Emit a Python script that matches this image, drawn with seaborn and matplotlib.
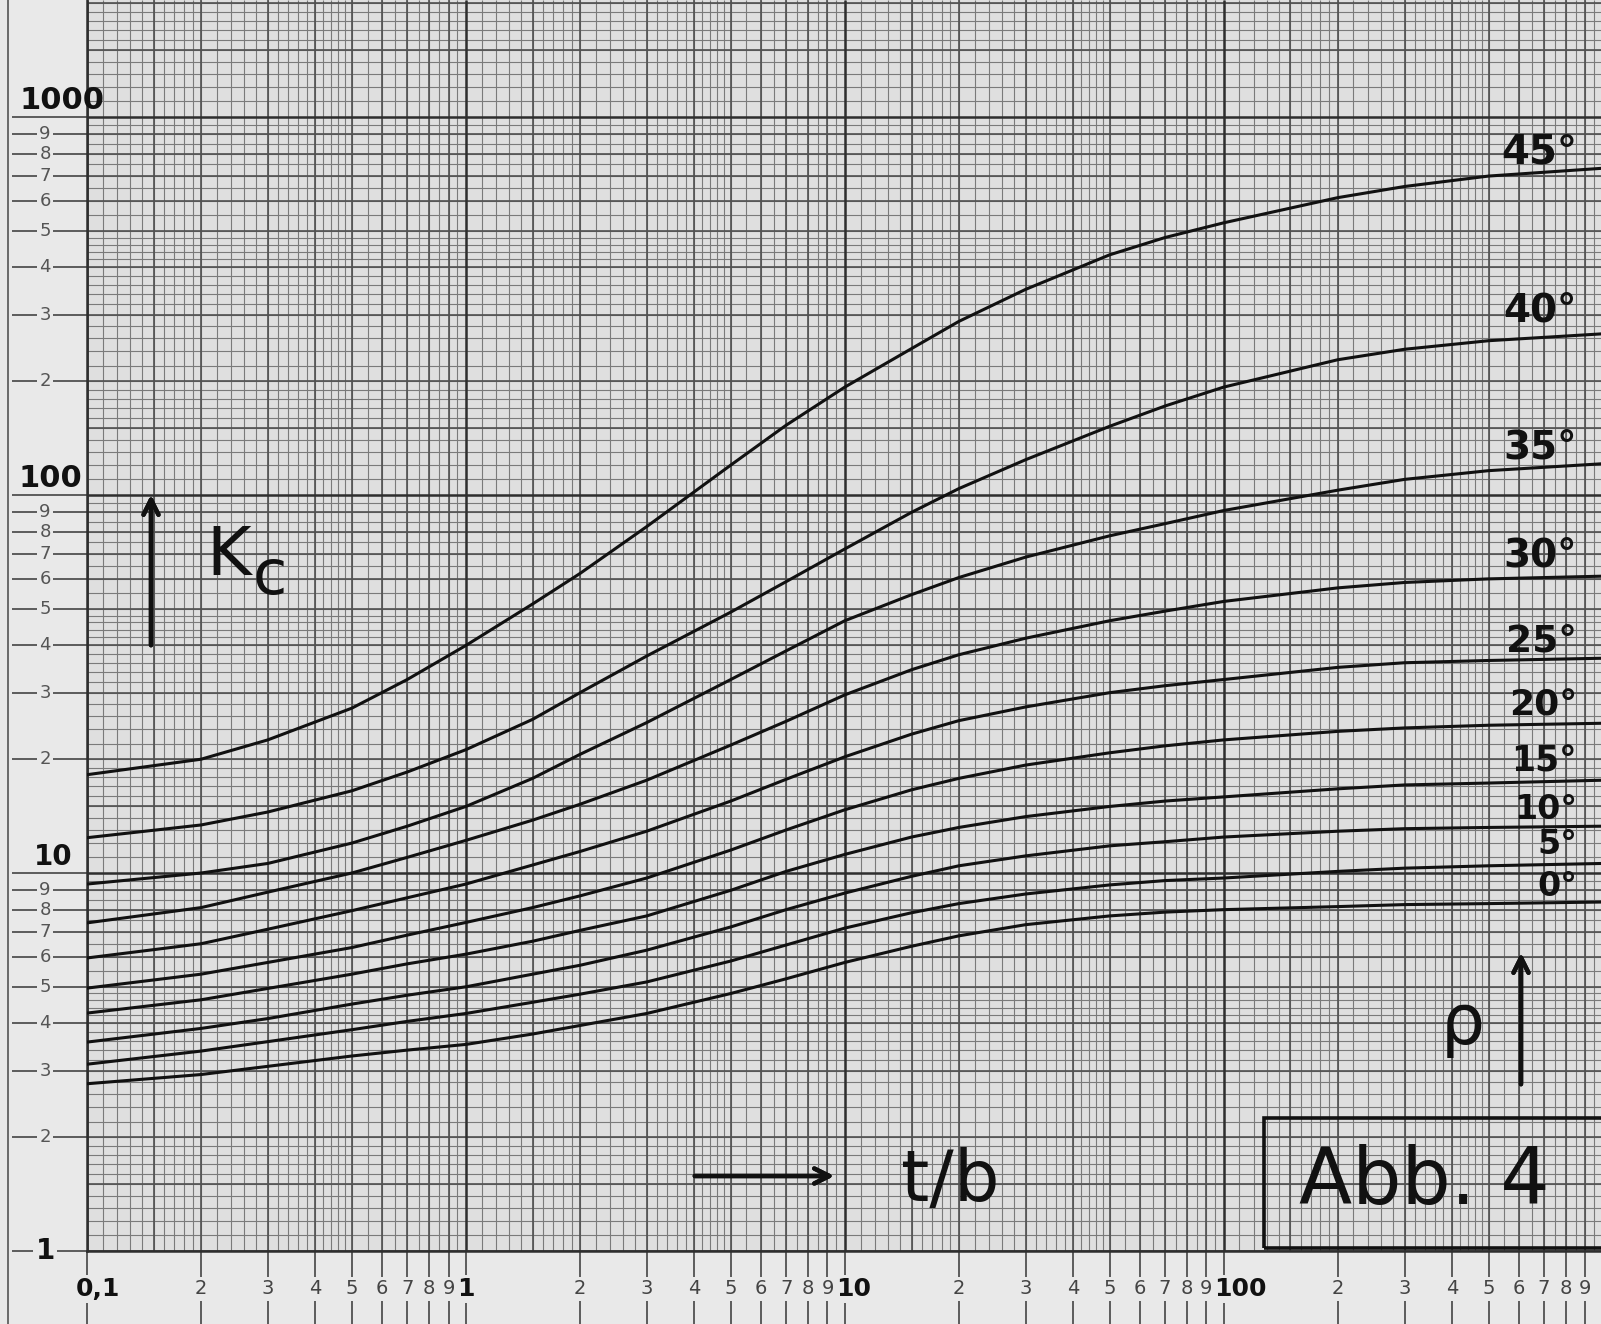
import numpy as np
import pandas as pd
import seaborn as sns
import matplotlib.pyplot as plt
from matplotlib.ticker import FixedLocator, NullFormatter
from matplotlib.transforms import blended_transform_factory, offset_copy
from matplotlib.patches import Rectangle
from matplotlib.lines import Line2D

# values (t/b on x, K_c on y, one list per angle rho)
t_b = [0.1, 0.2, 0.3, 0.5, 0.7, 1, 1.5, 2, 3, 5, 7, 10, 15, 20, 30, 50, 70, 100, 200, 300, 500, 1000]
rho_deg = [0, 5, 10, 15, 20, 25, 30, 35, 40, 45]

kc_0 = [2.77, 2.93, 3.08, 3.28, 3.4, 3.52, 3.75, 3.95, 4.25, 4.8, 5.25, 5.8, 6.4, 6.82, 7.3, 7.7, 7.88, 8.0, 8.15, 8.25, 8.3, 8.38]
kc_5 = [3.12, 3.38, 3.58, 3.85, 4.05, 4.25, 4.55, 4.78, 5.15, 5.85, 6.45, 7.15, 7.85, 8.3, 8.8, 9.3, 9.55, 9.7, 10.1, 10.3, 10.45, 10.6]
kc_10 = [3.57, 3.88, 4.12, 4.5, 4.75, 5.0, 5.4, 5.7, 6.25, 7.2, 8.0, 8.85, 9.8, 10.45, 11.1, 11.8, 12.1, 12.45, 12.9, 13.1, 13.2, 13.3]
kc_15 = [4.26, 4.62, 4.95, 5.4, 5.75, 6.1, 6.6, 7.05, 7.7, 9.0, 10.1, 11.2, 12.45, 13.2, 14.1, 15.0, 15.5, 15.9, 16.7, 17.1, 17.3, 17.6]
kc_20 = [4.96, 5.4, 5.8, 6.35, 6.85, 7.4, 8.1, 8.7, 9.7, 11.5, 13.0, 14.7, 16.6, 17.8, 19.3, 20.8, 21.7, 22.5, 23.7, 24.2, 24.6, 24.9]
kc_25 = [5.96, 6.5, 7.1, 7.95, 8.6, 9.35, 10.5, 11.4, 12.9, 15.5, 17.7, 20.3, 23.3, 25.3, 27.5, 30, 31.3, 32.5, 35, 36, 36.5, 37]
kc_30 = [7.38, 8.1, 8.9, 10.0, 11.0, 12.2, 13.8, 15.2, 17.6, 21.8, 25.2, 29.6, 34.5, 37.8, 41.8, 46.5, 49.3, 52.3, 56.8, 58.7, 60.0, 61]
kc_35 = [9.35, 10.0, 10.6, 12.0, 13.3, 15.0, 17.8, 20.6, 25.0, 32.5, 38.7, 46.5, 54.5, 60.5, 68.5, 78, 84, 91, 103, 110, 116, 121]
kc_40 = [12.4, 13.4, 14.5, 16.5, 18.5, 21.2, 25.5, 30, 37.5, 49, 59, 72, 90, 104, 124, 152, 172, 193, 228, 243, 256, 267]
kc_45 = [18.2, 20, 22.5, 27.3, 32.5, 40, 51.5, 62, 82.5, 120, 153, 193, 244, 288, 350, 432, 480, 525, 612, 655, 698, 732]

curves = [kc_0, kc_5, kc_10, kc_15, kc_20, kc_25, kc_30, kc_35, kc_40, kc_45]
rows = []
for r, vals in zip(rho_deg, curves):
    for x, y in zip(t_b, vals):
        rows.append((x, y, r))
df = pd.DataFrame(rows, columns=["t_b", "K_c", "rho"])

paper = "#dfdfdf"
margin = "#e9e9e9"
W, H = 1601, 1324

sns.set_theme(style="white")
plt.rcParams["font.family"] = ["DejaVu Sans"]

fig = plt.figure(figsize=(W / 100, H / 100), dpi=100, facecolor=margin)
ax = fig.add_axes([87 / W, 73 / H, 1514 / W, 1251 / H])
ax.set_facecolor(paper)
ax.set_xscale("log")
ax.set_yscale("log")


# log paper: fine rulings, integer rulings, decade rulings
def rulings(d0, d1):
    fine, mid = [], []
    for d in range(d0, d1):
        b = 10.0 ** d
        fine += list(b * np.arange(1, 2, 0.1)) + list(b * np.arange(2, 5, 0.2)) + list(b * np.arange(5, 10, 0.5))
        mid += list(b * np.array([1.5, 2, 3, 4, 5, 6, 7, 8, 9]))
    return np.array(fine), np.array(mid)

xf, xm = rulings(-1, 3)
yf, ym = rulings(0, 4)
xt = ax.get_xaxis_transform()
yt = ax.get_yaxis_transform()
ax.vlines(xf, 0, 1, transform=xt, colors="#7a7a7a", lw=0.8, zorder=1)
ax.hlines(yf, 0, 1, transform=yt, colors="#7a7a7a", lw=0.8, zorder=1)
ax.vlines(xm, 0, 1, transform=xt, colors="#505050", lw=1.2, zorder=1)
ax.hlines(ym, 0, 1, transform=yt, colors="#505050", lw=1.2, zorder=1)
ax.vlines([0.1, 1, 10, 100], 0, 1, transform=xt, colors="#2e2e2e", lw=1.8, zorder=1)
ax.hlines([1, 10, 100, 1000], 0, 1, transform=yt, colors="#2e2e2e", lw=1.8, zorder=1)

sns.lineplot(data=df, x="t_b", y="K_c", hue="rho", palette=["#111111"] * len(rho_deg),
             legend=False, estimator=None, sort=False, lw=2.2, ax=ax, zorder=3)
ax.set_xlabel("")
ax.set_ylabel("")
ax.set_xlim(0.1, 990)
ax.set_ylim(1, 2040)

for s in ["top", "right"]:
    ax.spines[s].set_visible(False)
for s in ["left", "bottom"]:
    ax.spines[s].set_color("#2e2e2e")
    ax.spines[s].set_linewidth(1.8)

# axis ticks in the margins
x_major = [m * 10.0 ** d for d in range(-1, 3) for m in range(1, 10)]
y_major = [m * 10.0 ** d for d in range(0, 3) for m in range(1, 10)] + [1000]
ax.xaxis.set_major_locator(FixedLocator(x_major))
ax.yaxis.set_major_locator(FixedLocator(y_major))
ax.xaxis.set_minor_locator(FixedLocator([1.5, 15, 150]))
ax.yaxis.set_minor_locator(FixedLocator([1.5, 15, 150]))
for a in [ax.xaxis, ax.yaxis]:
    a.set_major_formatter(NullFormatter())
    a.set_minor_formatter(NullFormatter())
ax.tick_params(which="major", axis="x", direction="out", length=53, width=1.2, color="#444444")
ax.tick_params(which="major", axis="y", direction="out", length=54, width=1.2, color="#444444")
ax.tick_params(which="minor", axis="x", direction="out", length=12, width=1.2, color="#444444")
ax.tick_params(which="minor", axis="y", direction="out", length=25, width=1.2, color="#444444")
ax.tick_params(left=True, bottom=True)

fig.add_artist(Line2D([8 / W, 8 / W], [0, 1], transform=fig.transFigure, color="#555555", lw=1.2))

box = dict(facecolor=margin, edgecolor="none", pad=1.5)
ty = blended_transform_factory(fig.transFigure, ax.transData)
for d in range(0, 3):
    for m in range(2, 10):
        ax.text(45 / W, m * 10.0 ** d, str(m), transform=ty, ha="center", va="center",
                fontsize=13, color="#555555", bbox=box, clip_on=False)
ax.text(45 / W, 1, "1", transform=ty, ha="center", va="center", fontsize=20,
        fontweight="bold", color="#111111", bbox=box, clip_on=False)
for v, xc, fs in [(10, 53, 20), (100, 50, 22), (1000, 62, 22)]:
    ax.text(xc / W, v * 1.01, str(v), transform=ty, ha="center", va="bottom", fontsize=fs,
            fontweight="bold", color="#111111", clip_on=False)

tx = blended_transform_factory(ax.transData, fig.transFigure)
ylab = 35 / H
for d in range(-1, 3):
    for m in range(2, 10):
        ax.text(m * 10.0 ** d, ylab, str(m), transform=tx, ha="center", va="center",
                fontsize=14, color="#444444", bbox=box, clip_on=False)
for v, s, dx in [(0.1, "0,1", 11), (1, "1", 0), (10, "10", 9), (100, "100", 17)]:
    ax.text(v, ylab, s, transform=offset_copy(tx, fig=fig, x=dx, units="dots"), ha="center",
            va="center", fontsize=18, fontweight="bold", color="#111111", bbox=box, clip_on=False)

# curve labels at the right edge (figure pixels, from top)
lab_y = [886, 845, 809, 761, 706, 641, 556, 447, 311, 153]
lab_fs = [24, 24, 24, 25, 26, 27, 28, 28, 28, 29]
for r, yy, fs in zip(rho_deg, lab_y, lab_fs):
    fig.text(1577 / W, 1 - yy / H, f"{r}°", ha="right", va="center", fontsize=fs,
             fontweight="bold", color="#111111")

arrow = dict(arrowstyle="->,head_length=0.9,head_width=0.45", lw=3.2, color="#111111")
fig.add_artist(plt.annotate("", xy=(151, 832), xytext=(151, 676), xycoords="figure pixels",
                            textcoords="figure pixels", arrowprops=arrow))
fig.text(229 / W, 768 / H, "K", ha="center", va="center", fontsize=49, color="#111111")
fig.text(270 / W, 747 / H, "c", ha="center", va="center", fontsize=45, color="#111111")

fig.add_artist(plt.annotate("", xy=(837, 148), xytext=(692, 148), xycoords="figure pixels",
                            textcoords="figure pixels", arrowprops=arrow))
fig.text(950 / W, 142 / H, "t/b", ha="center", va="center", fontsize=52, color="#111111")

fig.add_artist(plt.annotate("", xy=(1521, 374), xytext=(1521, 237), xycoords="figure pixels",
                            textcoords="figure pixels", arrowprops=arrow))
fig.text(1463 / W, 300 / H, "ρ", ha="center", va="center", fontsize=50, color="#111111")

fig.add_artist(Rectangle((1264 / W, 76 / H), 360 / W, 130 / H, transform=fig.transFigure,
                         facecolor="none", edgecolor="#111111", lw=2.6, zorder=5))
fig.text(1424 / W, 142 / H, "Abb. 4", ha="center", va="center", fontsize=56, color="#111111")

fig.savefig("out.png", dpi=100, facecolor=margin)
